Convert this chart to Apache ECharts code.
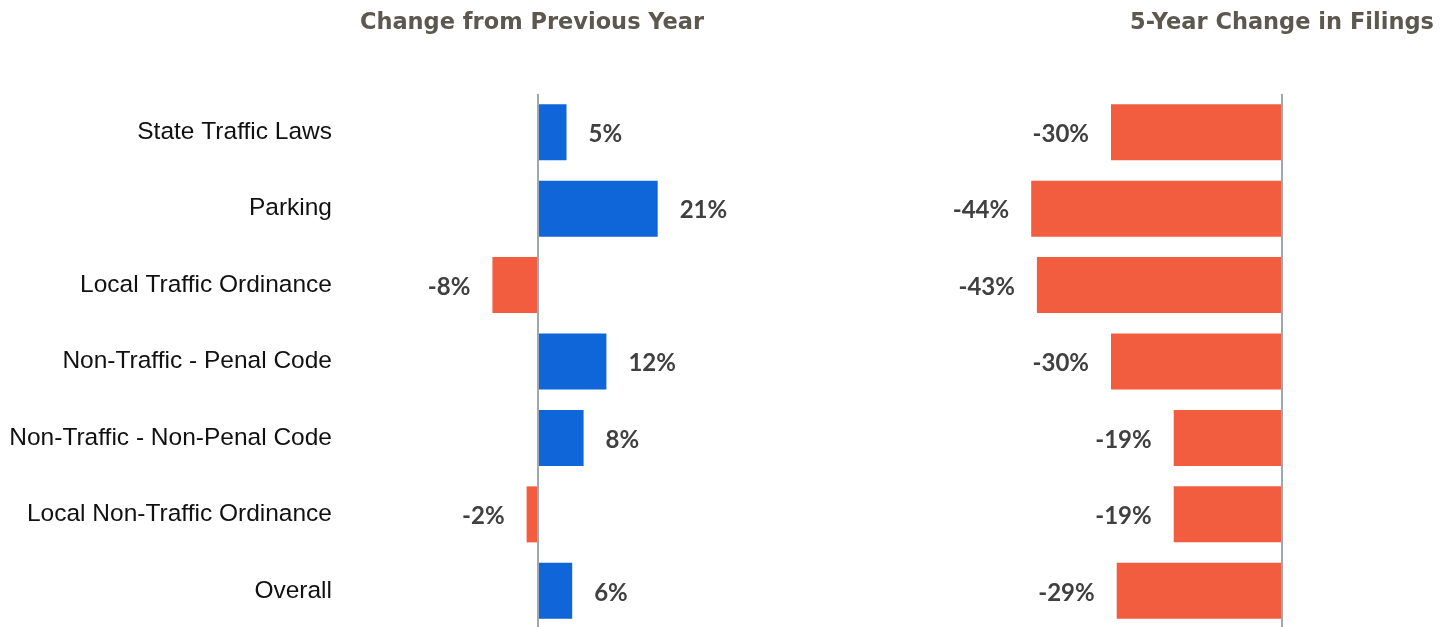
<!DOCTYPE html>
<html>
<head>
<meta charset="utf-8">
<script src="https://cdn.jsdelivr.net/npm/echarts@6/dist/echarts.min.js"></script>
<style>
html,body{margin:0;padding:0;background:#fff;}
#chart{width:1440px;height:627px;}
</style>
</head>
<body>
<div id="chart"></div>
<script>
const categories = ["State Traffic Laws","Parking","Local Traffic Ordinance","Non-Traffic - Penal Code","Non-Traffic - Non-Penal Code","Local Non-Traffic Ordinance","Overall"];
const prevYearChange = [5, 21, -8, 12, 8, -2, 6];
const fiveYearChange = [-30, -44, -43, -30, -19, -19, -29];
const titles = ["Change from Previous Year", "5-Year Change in Filings"];

const BLUE = '#0f66d9', ORANGE = '#f15d3e';
const LINE = '#a0a7ae';

function build(vals){
  return vals.map(v => ({
    value: v,
    itemStyle: {color: v >= 0 ? BLUE : ORANGE},
    label: {position: v >= 0 ? 'right' : 'left'}
  }));
}
const labelStyle = {
  show: true, formatter: '{c}%', distance: 22, offset: [0, 2],
  fontFamily: 'Lato', fontWeight: 'bold', fontSize: 24, color: '#404040'
};
const zeroLine = {
  silent: true, symbol: 'none', label: {show: false},
  lineStyle: {color: LINE, width: 2, type: 'solid'},
  data: [{xAxis: 0}]
};

const chart = echarts.init(document.getElementById('chart'));
chart.setOption({
  animation: false,
  graphic: [
    {type:'text', x:532, y:23, style:{text:titles[0], textAlign:'center', textVerticalAlign:'middle', fontFamily:'DejaVu Sans', fontWeight:'bold', fontSize:22.5, fill:'#5c5850'}},
    {type:'text', x:1282, y:23, style:{text:titles[1], textAlign:'center', textVerticalAlign:'middle', fontFamily:'DejaVu Sans', fontWeight:'bold', fontSize:22.5, fill:'#5c5850'}}
  ],
  grid: [
    {left: 424, width: 285, top: 94, height: 535, containLabel: false, outerBoundsMode: 'none'},
    {left: 997, width: 285, top: 94, height: 535, containLabel: false, outerBoundsMode: 'none'}
  ],
  xAxis: [
    {gridIndex:0, type:'value', min:-20, max:30, show:false},
    {gridIndex:1, type:'value', min:-50, max:0, show:false}
  ],
  yAxis: [
    {gridIndex:0, type:'category', data:categories, inverse:true,
     axisLine:{show:false}, axisTick:{show:false}, splitLine:{show:false},
     axisLabel:{margin:92, padding:[5,0,0,0], fontFamily:'Liberation Sans', fontSize:24.5, color:'#111111'}},
    {gridIndex:1, type:'category', data:categories, inverse:true, show:false}
  ],
  series: [
    {type:'bar', xAxisIndex:0, yAxisIndex:0, data:build(prevYearChange), barWidth:56, label:labelStyle, markLine:zeroLine},
    {type:'bar', xAxisIndex:1, yAxisIndex:1, data:build(fiveYearChange), barWidth:56, label:labelStyle, markLine:zeroLine}
  ]
});
</script>
</body>
</html>
